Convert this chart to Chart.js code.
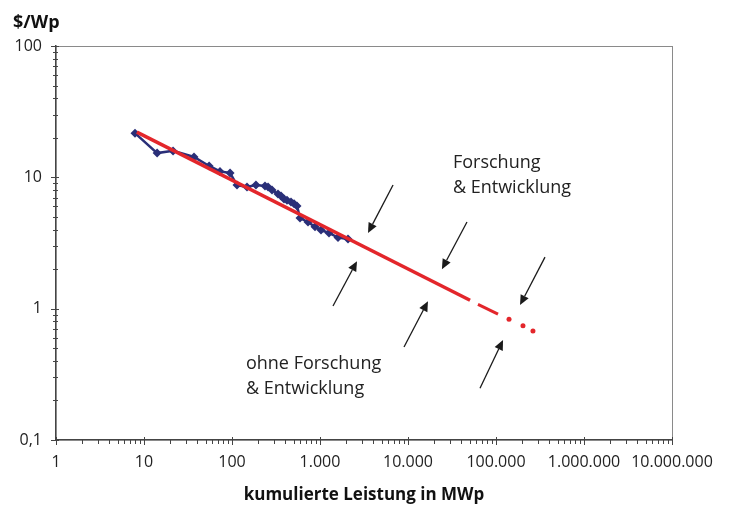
<!DOCTYPE html>
<html>
<head>
<meta charset="utf-8">
<script src="https://cdn.jsdelivr.net/npm/chart.js@4.4.1/dist/chart.umd.min.js"></script>
<style>
  body { margin: 0; background: #fff; }
</style>
</head>
<body>
<canvas id="lernkurve" width="736" height="507"></canvas>
<script>
// Marktdaten (kumulierte Leistung MWp / Preis $/Wp)
var marktX = [7.9, 14.1, 21.4, 37, 55, 73, 95, 114, 148, 187, 237, 257, 285, 333, 361, 390, 422, 468, 507, 548, 593, 731, 877, 1026, 1265, 1602, 2080];
var marktY = [21.7, 15.3, 15.9, 14.3, 12.2, 11.1, 10.8, 8.74, 8.44, 8.74, 8.59, 8.44, 8.0, 7.46, 7.2, 6.84, 6.7, 6.49, 6.3, 6.05, 4.9, 4.57, 4.2, 3.97, 3.77, 3.48, 3.39];

// Trendlinie
var trendX = [8.3, 50700];
var trendY = [22.1, 1.16];
var prognoseX = [62400, 105400];
var prognoseY = [1.08, 0.91];
var punkteX = [140600, 202600, 263000];
var punkteY = [0.83, 0.74, 0.675];

var xTickLabels = ['1', '10', '100', '1.000', '10.000', '100.000', '1.000.000', '10.000.000'];
var yTickLabels = ['0,1', '1', '10', '100'];

// Pfeile [vonX, vonY, nachX, nachY]
var pfeile = [
    [6760, 8.74, 3510, 3.77],
    [46800, 4.57, 24300, 2.00],
    [360500, 2.47, 187500, 1.065],
    [1405, 1.047, 2632, 2.30],
    [9010, 0.51, 16870, 1.14],
    [65800, 0.248, 120200, 0.577]
];
var texte = [
    ['Forschung', 32400, 11.8],
    ['& Entwicklung', 32400, 7.59],
    ['ohne Forschung', 144, 0.347],
    ['& Entwicklung', 144, 0.224]
];

function zip(xs, ys) {
    return xs.map(function (x, i) { return {x: x, y: ys[i]}; });
}

function isPow10(v) {
    var l = Math.log10(v);
    return Math.abs(l - Math.round(l)) < 1e-9;
}

function logTicks(scale) {
    var ticks = [];
    var lo = Math.round(Math.log10(scale.min));
    var hi = Math.round(Math.log10(scale.max));
    for (var e = lo; e <= hi; e++) {
        for (var s = 1; s <= 9; s++) {
            if (e == hi && s > 1) break;
            ticks.push({value: parseFloat((s * Math.pow(10, e)).toPrecision(3))});
        }
    }
    scale.ticks = ticks;
}

Chart.defaults.font.family = "'Open Sans', sans-serif";
Chart.defaults.color = '#222';

var extras = {
    id: 'extras',
    beforeDatasetsDraw: function (chart) {
        var a = chart.chartArea, c = chart.ctx;
        c.save();
        c.strokeStyle = '#8a8a8a';
        c.lineWidth = 1;
        c.strokeRect(a.left + 0.5, a.top + 0.5, a.right - a.left, a.bottom - a.top);
        c.restore();
    },
    afterDraw: function (chart) {
        var c = chart.ctx, xs = chart.scales.x, ys = chart.scales.y;
        var a = chart.chartArea;
        c.save();
        c.strokeStyle = '#444';
        c.lineWidth = 1;
        xs.ticks.forEach(function (t) {
            var px = Math.round(xs.getPixelForValue(t.value)) + 0.5;
            var big = isPow10(t.value);
            c.beginPath();
            c.moveTo(px, a.bottom - (big ? 3 : 0));
            c.lineTo(px, a.bottom + (big ? 5 : 4));
            c.stroke();
        });
        ys.ticks.forEach(function (t) {
            var py = Math.round(ys.getPixelForValue(t.value)) + 0.5;
            var big = isPow10(t.value);
            c.beginPath();
            c.moveTo(a.left - (big ? 5 : 3), py);
            c.lineTo(a.left + (big ? 3 : 2), py);
            c.stroke();
        });

        // Pfeile
        c.strokeStyle = '#1a1a1a';
        c.fillStyle = '#1a1a1a';
        c.lineWidth = 1.3;
        pfeile.forEach(function (p) {
            var x0 = xs.getPixelForValue(p[0]), y0 = ys.getPixelForValue(p[1]);
            var x1 = xs.getPixelForValue(p[2]), y1 = ys.getPixelForValue(p[3]);
            var ang = Math.atan2(y1 - y0, x1 - x0);
            var hl = 10, hw = 4.5;
            var bx = x1 - hl * Math.cos(ang), by = y1 - hl * Math.sin(ang);
            c.beginPath();
            c.moveTo(x0, y0);
            c.lineTo(bx, by);
            c.stroke();
            c.beginPath();
            c.moveTo(x1, y1);
            c.lineTo(bx + hw * Math.sin(ang), by - hw * Math.cos(ang));
            c.lineTo(bx - hw * Math.sin(ang), by + hw * Math.cos(ang));
            c.closePath();
            c.fill();
        });

        c.fillStyle = '#222';
        c.font = "18px 'Open Sans', sans-serif";
        c.textBaseline = 'alphabetic';
        c.textAlign = 'left';
        texte.forEach(function (t) {
            c.fillText(t[0], xs.getPixelForValue(t[1]), ys.getPixelForValue(t[2]));
        });

        c.fillStyle = '#111';
        c.font = "bold 18px 'Open Sans', sans-serif";
        c.fillText('$/Wp', 13, 28);
        c.textAlign = 'center';
        c.font = "bold 17px 'Open Sans', sans-serif";
        c.fillText('kumulierte Leistung in MWp', (a.left + a.right) / 2, 500);
        c.restore();
    }
};

var ctx = document.getElementById('lernkurve').getContext('2d');
var chart = new Chart(ctx, {
    type: 'scatter',
    data: {
        datasets: [{
            data: zip(trendX, trendY),
            showLine: true,
            borderColor: '#e3262b',
            borderWidth: 3.5,
            pointRadius: 0
        }, {
            data: zip(prognoseX, prognoseY),
            showLine: true,
            borderColor: '#e3262b',
            borderWidth: 3,
            pointRadius: 0
        }, {
            data: zip(punkteX, punkteY),
            showLine: false,
            backgroundColor: '#e3262b',
            borderWidth: 0,
            pointRadius: 2.5
        }, {
            data: zip(marktX, marktY),
            showLine: true,
            borderColor: '#2a2f78',
            backgroundColor: '#2a2f78',
            borderWidth: 2.5,
            pointStyle: 'rectRot',
            pointRadius: 4.5,
            pointBorderWidth: 0
        }]
    },
    options: {
        responsive: false,
        animation: false,
        layout: {
            padding: {left: 0, top: 46, right: 64, bottom: 0}
        },
        plugins: {
            legend: {display: false},
            tooltip: {enabled: false}
        },
        scales: {
            x: {
                type: 'logarithmic',
                min: 1,
                max: 10000000,
                afterBuildTicks: logTicks,
                afterFit: function (s) { s.height = 67; },
                grid: {display: false, drawTicks: false},
                border: {color: '#444', width: 1.5},
                ticks: {
                    autoSkip: false,
                    maxRotation: 0,
                    padding: 13,
                    font: {size: 16},
                    callback: function (v) {
                        return isPow10(v) ? xTickLabels[Math.round(Math.log10(v))] : '';
                    }
                }
            },
            y: {
                type: 'logarithmic',
                min: 0.1,
                max: 100,
                afterBuildTicks: logTicks,
                afterFit: function (s) { s.width = 56; },
                grid: {display: false, drawTicks: false},
                border: {color: '#444', width: 1.5},
                ticks: {
                    autoSkip: false,
                    padding: 14,
                    font: {size: 16},
                    callback: function (v) {
                        return isPow10(v) ? yTickLabels[Math.round(Math.log10(v)) + 1] : '';
                    }
                }
            }
        }
    },
    plugins: [extras]
});
</script>
</body>
</html>
